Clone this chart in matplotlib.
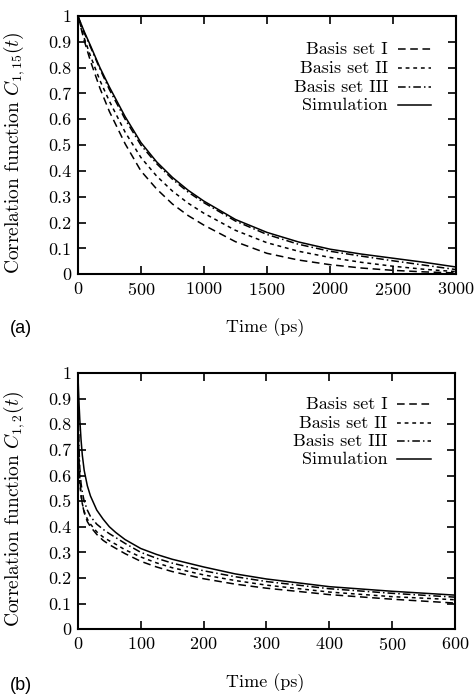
import numpy as np
import matplotlib
matplotlib.use("Agg")
import matplotlib.pyplot as plt
from matplotlib.ticker import FormatStrFormatter, MultipleLocator
from matplotlib.lines import Line2D

# panel (a): C_{1,15}(t)
time_a = [0, 50, 100, 175, 250, 375, 500, 625, 750, 875, 1000, 1250, 1500, 1750,
          2000, 2250, 2500, 2750, 3000]
sim_a = [1.0, 0.94, 0.885, 0.8, 0.725, 0.61, 0.51, 0.435, 0.375, 0.325, 0.283,
         0.212, 0.162, 0.125, 0.097, 0.078, 0.062, 0.046, 0.028]
basis3_a = [1.0, 0.935, 0.88, 0.795, 0.715, 0.6, 0.5, 0.428, 0.368, 0.318, 0.277,
            0.206, 0.154, 0.116, 0.089, 0.07, 0.052, 0.035, 0.018]
basis2_a = [1.0, 0.915, 0.845, 0.75, 0.67, 0.55, 0.452, 0.38, 0.322, 0.275, 0.236,
            0.17, 0.122, 0.089, 0.065, 0.046, 0.031, 0.019, 0.01]
basis1_a = [1.0, 0.905, 0.825, 0.72, 0.63, 0.505, 0.4, 0.33, 0.272, 0.227, 0.19,
            0.126, 0.081, 0.055, 0.037, 0.024, 0.015, 0.009, 0.005]

# panel (b): C_{1,2}(t)
time_b = [0, 1, 2, 3, 5, 7, 10, 15, 20, 30, 40, 50, 60, 75, 100, 125, 150, 200,
          250, 300, 400, 500, 600]
sim_b = [1.0, 0.93, 0.87, 0.82, 0.74, 0.68, 0.62, 0.56, 0.52, 0.465, 0.43, 0.40,
         0.378, 0.35, 0.315, 0.292, 0.273, 0.243, 0.216, 0.196, 0.166, 0.148, 0.133]
basis3_b = [1.0, 0.78, 0.69, 0.63, 0.57, 0.535, 0.5, 0.465, 0.44, 0.41, 0.39,
            0.373, 0.358, 0.335, 0.30, 0.277, 0.258, 0.228, 0.205, 0.186, 0.158,
            0.14, 0.125]
basis2_b = [1.0, 0.72, 0.62, 0.57, 0.52, 0.49, 0.46, 0.43, 0.41, 0.38, 0.36, 0.345,
            0.332, 0.31, 0.282, 0.259, 0.24, 0.212, 0.19, 0.172, 0.145, 0.127, 0.115]
basis1_b = [1.0, 0.75, 0.65, 0.59, 0.53, 0.49, 0.455, 0.42, 0.40, 0.37, 0.347,
            0.33, 0.316, 0.295, 0.265, 0.243, 0.225, 0.197, 0.176, 0.16, 0.135,
            0.117, 0.102]

labels = ["Basis set I", "Basis set II", "Basis set III", "Simulation"]
dash_styles = [(0, (5, 3)), (0, (2.5, 2.5)), (0, (5, 2, 1, 2)), "-"]

plt.rcParams["font.family"] = ["cmr10", "DejaVu Serif"]
plt.rcParams["mathtext.fontset"] = "cm"
plt.rcParams["axes.formatter.use_mathtext"] = True
FS = 13


def draw_panel(ax, t, series, xmax, xstep, ylabel, leg_y):
    for ys, ls in zip(series, dash_styles):
        ax.plot(t, ys, color="black", linestyle=ls, linewidth=1.1)
    ax.set_xlim(0, xmax)
    ax.set_ylim(0, 1)
    ax.xaxis.set_major_locator(MultipleLocator(xstep))
    ax.yaxis.set_major_locator(MultipleLocator(0.1))
    ax.yaxis.set_major_formatter(FormatStrFormatter("%g"))
    ax.tick_params(direction="in", top=True, right=True, length=6, width=1.2,
                   labelsize=FS, pad=5)
    for sp in ax.spines.values():
        sp.set_linewidth(1.5)
    ax.set_ylabel(ylabel, fontsize=14)
    ax.yaxis.set_label_coords(-0.135, 0.47)
    # legend: right aligned labels, handles to the right
    for lab, ls, yy in zip(labels, dash_styles, leg_y):
        ax.text(0.82, yy, lab, transform=ax.transAxes, ha="right", va="center",
                fontsize=FS)
        ax.add_line(Line2D([0.847, 0.935], [yy, yy], transform=ax.transAxes,
                           color="black", linestyle=ls, linewidth=1.1))


fig = plt.figure(figsize=(4.75, 6.96), dpi=100)
ax1 = fig.add_axes([0.164, 0.606, 0.796, 0.371])
ax2 = fig.add_axes([0.164, 0.096, 0.794, 0.368])

draw_panel(ax1, time_a, [basis1_a, basis2_a, basis3_a, sim_a], 3000, 500,
           r"Correlation function $C_{1,15}(t)$", [0.872, 0.798, 0.725, 0.655])
draw_panel(ax2, time_b, [basis1_b, basis2_b, basis3_b, sim_b], 600, 100,
           r"Correlation function $C_{1,2}(t)$", [0.879, 0.805, 0.734, 0.664])

fig.text(0.558, 1 - 328 / 696, "Time (ps)", ha="center", va="center", fontsize=FS)
fig.text(0.558, 1 - 683 / 696, "Time (ps)", ha="center", va="center", fontsize=FS)
fig.text(0.02, 1 - 329 / 696, "(a)", ha="left", va="center", fontsize=13,
         family="Liberation Sans")
fig.text(0.02, 1 - 685 / 696, "(b)", ha="left", va="center", fontsize=13,
         family="Liberation Sans")

fig.savefig("out.png", dpi=100)
